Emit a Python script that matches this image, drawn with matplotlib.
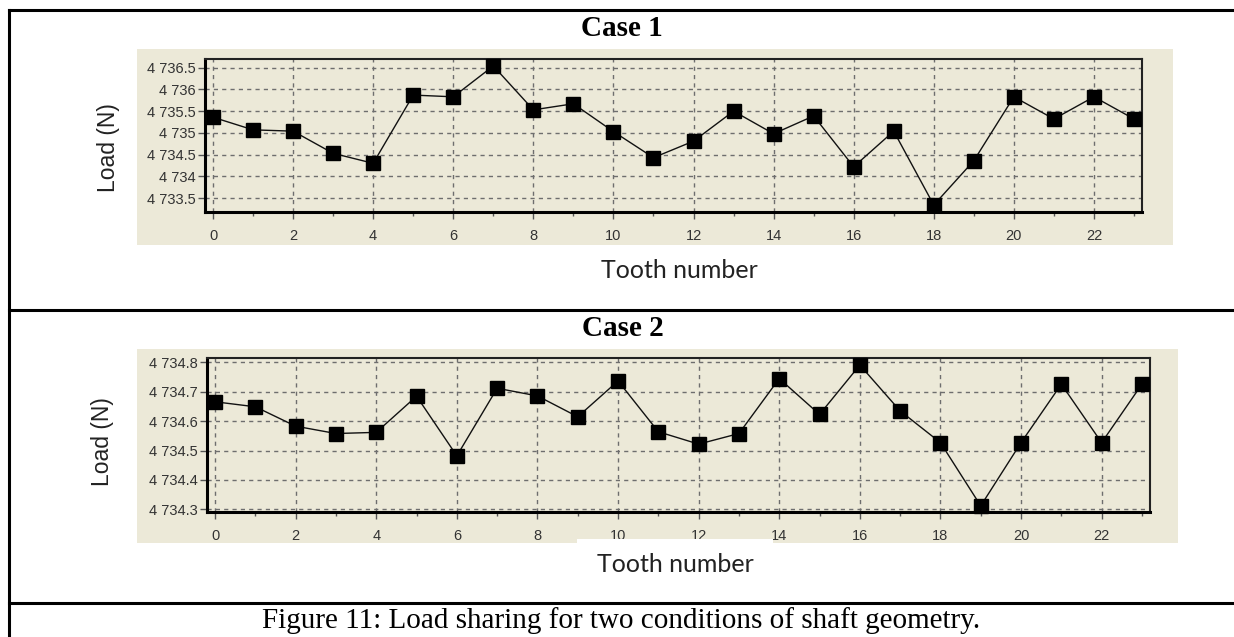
import matplotlib
matplotlib.use("Agg")
import matplotlib.pyplot as plt
from matplotlib.patches import Rectangle
from matplotlib.lines import Line2D
from matplotlib.ticker import MultipleLocator, FuncFormatter

# ---------------- data ----------------
teeth = list(range(24))
case1_load = [4735.36, 4735.07, 4735.04, 4734.53, 4734.30, 4735.87, 4735.83, 4736.54,
              4735.53, 4735.67, 4735.03, 4734.43, 4734.81, 4735.50, 4734.98, 4735.39,
              4734.22, 4735.04, 4733.34, 4734.36, 4735.83, 4735.32, 4735.83, 4735.32]
case2_load = [4734.666, 4734.649, 4734.583, 4734.558, 4734.562, 4734.685, 4734.482, 4734.712,
              4734.686, 4734.615, 4734.737, 4734.564, 4734.522, 4734.558, 4734.745, 4734.623,
              4734.791, 4734.635, 4734.527, 4734.312, 4734.527, 4734.726, 4734.527, 4734.726]
case_titles = ["Case 1", "Case 2"]
x_label = "Tooth number"
y_label = "Load (N)"
caption = "Figure 11: Load sharing for two conditions of shaft geometry."

W, H = 1234, 637
fig = plt.figure(figsize=(W / 100, H / 100), dpi=100)
fig.patch.set_facecolor("white")

BEIGE = "#ECE9D8"


def fx(x):
    return x / W


def fy(y):
    return 1 - y / H


def rect(l, t, r, b):
    return [l / W, 1 - b / H, (r - l) / W, (b - t) / H]


def thousands(v, pos):
    s = f"{v:.1f}"
    if s.endswith(".0"):
        s = s[:-2]
    ip, _, dp = s.partition(".")
    ip = ip[:-3] + " " + ip[-3:]
    return ip + ("." + dp if dp else "")


def make_axes(box, panel, ydata, ylim, ystep):
    # beige background panel
    l, t, r, b = panel
    fig.add_artist(Rectangle((fx(l), fy(b)), fx(r) - fx(l), fy(t) - fy(b),
                             transform=fig.transFigure, facecolor=BEIGE,
                             edgecolor="none", zorder=-1))
    ax = fig.add_axes(rect(*box))
    ax.set_facecolor(BEIGE)
    ax.plot(teeth, ydata, color="#111111", lw=1.0, marker="s", markersize=10,
            markerfacecolor="black", markeredgecolor="black", clip_on=False, zorder=3)
    ax.set_xlim(-0.2, 23.2)
    ax.set_ylim(*ylim)
    ax.xaxis.set_major_locator(MultipleLocator(2))
    ax.xaxis.set_minor_locator(MultipleLocator(1))
    ax.yaxis.set_major_locator(MultipleLocator(ystep))
    ax.yaxis.set_major_formatter(FuncFormatter(thousands))
    ax.grid(True, which="major", color="#6e6e6e", linestyle=(0, (3, 3)), lw=1.0)
    ax.set_axisbelow(True)
    ax.tick_params(axis="both", which="major", direction="out", length=5, width=1,
                   color="#555555", labelsize=10.5, labelcolor="#333333")
    ax.tick_params(axis="x", which="major", pad=7)
    ax.tick_params(axis="y", which="major", pad=2)
    ax.tick_params(axis="x", which="minor", direction="out", length=3, width=1,
                   color="#555555")
    for lab in ax.get_xticklabels() + ax.get_yticklabels():
        lab.set_family("Liberation Sans")
    for side in ["left", "bottom"]:
        ax.spines[side].set_linewidth(2.2)
        ax.spines[side].set_color("black")
    for side in ["top", "right"]:
        ax.spines[side].set_linewidth(1.5)
        ax.spines[side].set_color("#222222")
    return ax


ax1 = make_axes((205, 59, 1142, 212), (137, 49, 1173, 245), case1_load,
                (4733.18, 4736.7), 0.5)
ax2 = make_axes((207, 358, 1150, 512), (137, 349, 1178, 543), case2_load,
                (4734.291, 4734.815), 0.1)

# white patch covering part of case 2 tick labels (as in reference)
fig.add_artist(Rectangle((fx(577), fy(560)), fx(773) - fx(577), fy(539) - fy(560),
                         transform=fig.transFigure, facecolor="white",
                         edgecolor="none", zorder=5))

# titles
fig.text(fx(622), fy(28), case_titles[0], ha="center", va="center",
         family="Liberation Serif", fontweight="bold", fontsize=21)
fig.text(fx(623), fy(328), case_titles[1], ha="center", va="center",
         family="Liberation Serif", fontweight="bold", fontsize=21)

# axis labels
fig.text(fx(679), fy(270), x_label, ha="center", va="center",
         family="Lato", fontsize=18, color="#222222")
fig.text(fx(675), fy(564), x_label, ha="center", va="center",
         family="Lato", fontsize=18, color="#222222", zorder=6)
fig.text(fx(109), fy(148), y_label, ha="center", va="center", rotation=90,
         family="Liberation Sans", fontsize=16.5, color="#222222")
fig.text(fx(102), fy(442), y_label, ha="center", va="center", rotation=90,
         family="Liberation Sans", fontsize=16.5, color="#222222")

# caption
fig.text(fx(621), fy(621), caption, ha="center", va="center",
         family="Liberation Serif", fontsize=21, color="black")

# table borders
lw = 2.2
for (x0, y0, x1, y1) in [(9, 10, 1234, 10), (9, 310, 1234, 310), (9, 603, 1234, 603),
                         (9, 10, 9, 637)]:
    fig.add_artist(Line2D([fx(x0), fx(x1)], [fy(y0), fy(y1)], transform=fig.transFigure,
                          color="black", lw=lw, zorder=7))

fig.savefig("out.png", dpi=100, facecolor="white")
